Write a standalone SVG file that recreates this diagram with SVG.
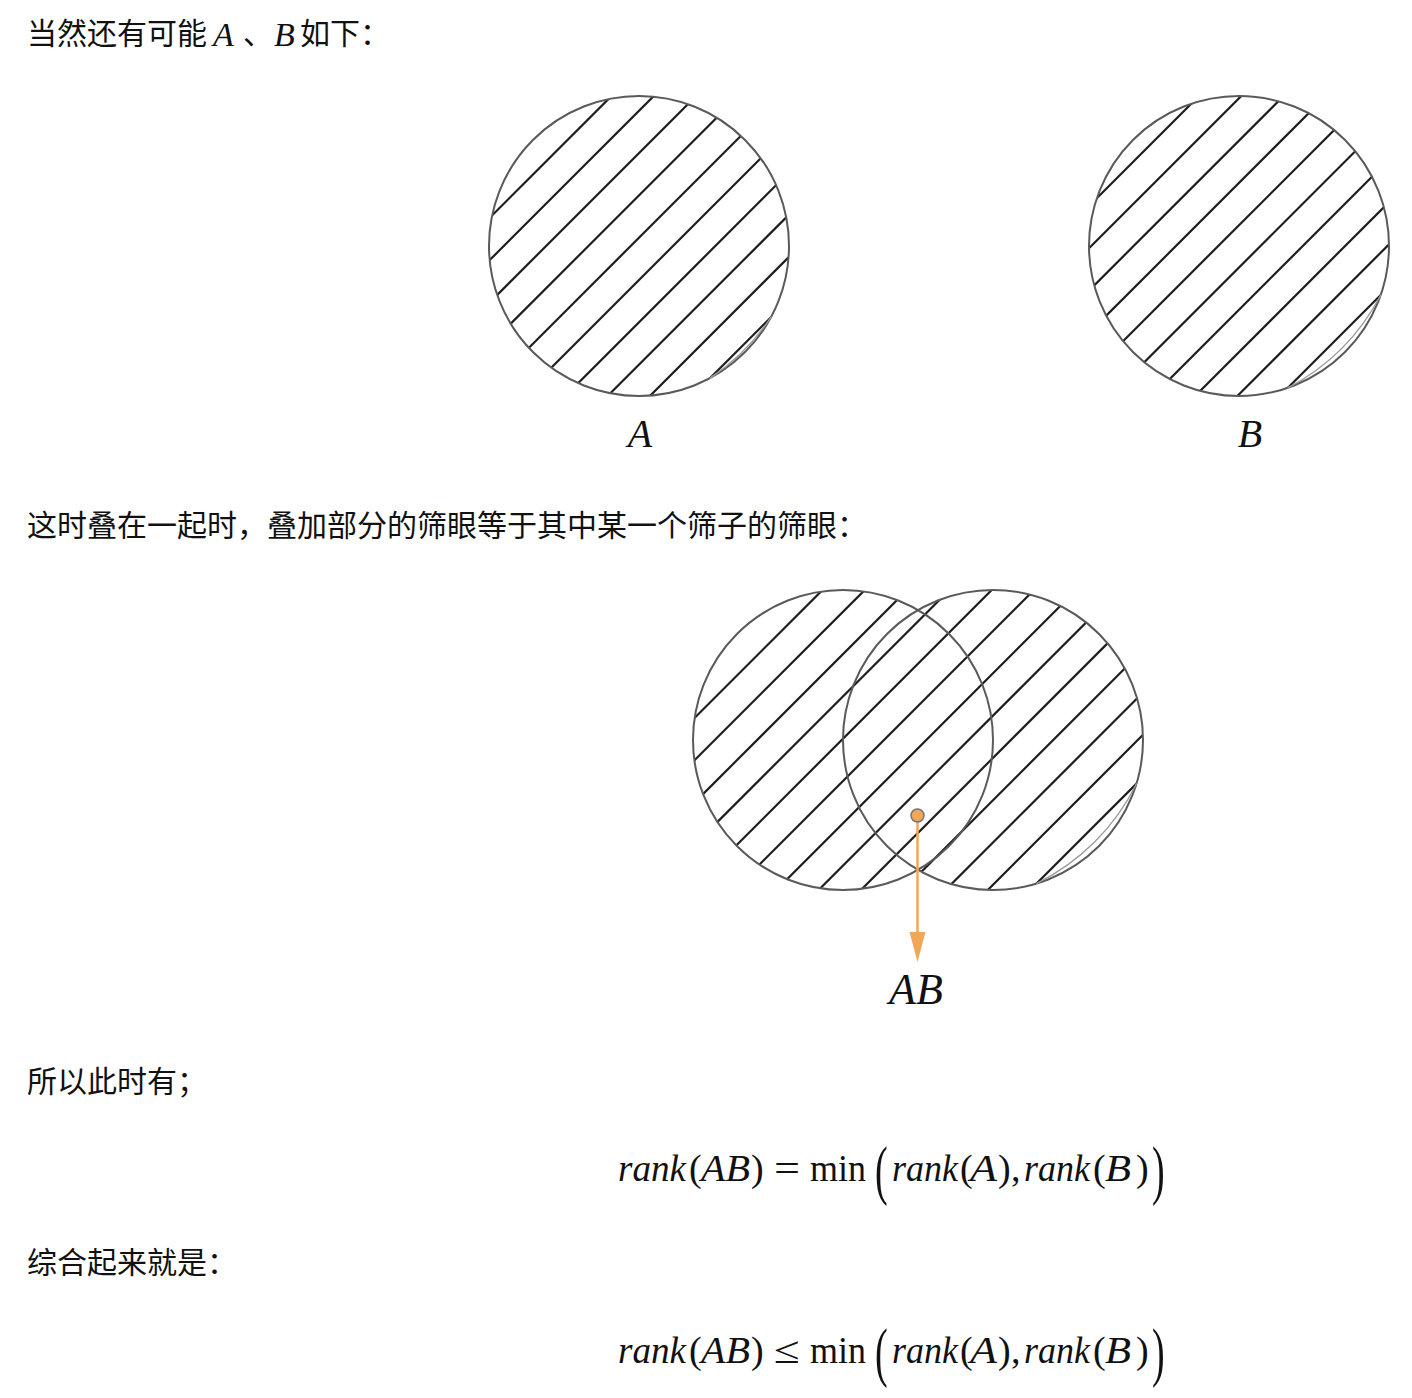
<svg xmlns="http://www.w3.org/2000/svg" width="1412" height="1398" viewBox="0 0 1412 1398">
<style>
.cn{font-family:"Noto Sans CJK SC","Noto Sans",sans-serif;font-size:30px;fill:#111}
.mi{font-family:"Liberation Serif",serif;font-style:italic;fill:#111}
.mr{font-family:"Liberation Serif",serif;fill:#111}
.ring{fill:none;stroke:#5a5a5a;stroke-width:2}
.hatch{fill:none;stroke:#1e1e1e;stroke-width:2.2}
.ghost{fill:none;stroke:#999;stroke-width:1.3}
</style>
<defs>
<clipPath id="clipA"><circle cx="639" cy="246" r="150"/></clipPath>
<clipPath id="clipB"><circle cx="1239" cy="246" r="150"/></clipPath>
<clipPath id="clipU"><circle cx="843" cy="740" r="150"/><circle cx="993" cy="740" r="150"/></clipPath>
</defs>
<rect width="1412" height="1398" fill="#fff"/>

<g id="line1">
<text class="cn" x="27" y="44">当然还有可能</text>
<text class="mi" x="213" y="46" font-size="34">A</text>
<text class="cn" x="243" y="44">、</text>
<text class="mi" x="274" y="46" font-size="34">B</text>
<text class="cn" x="300" y="44">如下：</text>
</g>

<g id="circleA">
<g clip-path="url(#clipA)">
<path class="hatch" d="M307.5,400L617.5,90M349.8,400L659.8,90M392.1,400L702.1,90M434.4,400L744.4,90M476.7,400L786.7,90M519,400L829,90M561.3,400L871.3,90M603.6,400L913.6,90M645.9,400L955.9,90M688.2,400L998.2,90"/>
</g>
<circle class="ring" cx="639" cy="246" r="150"/>
<path class="ghost" d="M709.6,378.4A220,220 0 0 0 771.4,316.6"/>
<text class="mi" x="640" y="447" font-size="40" text-anchor="middle">A</text>
</g>

<g id="circleB">
<g clip-path="url(#clipB)">
<path class="hatch" d="M895,400L1205,90M937.3,400L1247.3,90M979.6,400L1289.6,90M1021.9,400L1331.9,90M1064.2,400L1374.2,90M1106.5,400L1416.5,90M1148.8,400L1458.8,90M1191.1,400L1501.1,90M1233.4,400L1543.4,90M1275.7,400L1585.7,90"/>
</g>
<circle class="ring" cx="1239" cy="246" r="150"/>
<path class="ghost" d="M1287.8,387.9A220,220 0 0 0 1380.9,294.8"/>
<text class="mi" x="1250" y="447" font-size="40" text-anchor="middle">B</text>
</g>

<text class="cn" x="27" y="536">这时叠在一起时，叠加部分的筛眼等于其中某一个筛子的筛眼：</text>

<g id="overlapAB">
<g clip-path="url(#clipU)">
<path class="hatch" d="M517.5,895L827.5,585M559.8,895L869.8,585M602.1,895L912.1,585M644.4,895L954.4,585M686.7,895L996.7,585M729,895L1039,585M771.3,895L1081.3,585M813.6,895L1123.6,585M855.9,895L1165.9,585M898.2,895L1208.2,585M940.5,895L1250.5,585M982.8,895L1292.8,585M1025.1,895L1335.1,585"/>
</g>
<circle class="ring" cx="843" cy="740" r="150"/>
<circle class="ring" cx="993" cy="740" r="150"/>
<path class="ghost" d="M1036.5,883.6A220,220 0 0 0 1136.6,783.5"/>
</g>

<g id="connectors">
<line x1="917.5" y1="822" x2="917.5" y2="934" stroke="#F0A858" stroke-width="2.5"/>
<polygon points="909.5,932 925.5,932 917.5,962" fill="#F0A858"/>
<circle cx="917.5" cy="815.5" r="6.5" fill="#F0A858" stroke="#777" stroke-width="1.5"/>
</g>
<text id="labelAB" class="mi" x="916" y="1004" font-size="44" text-anchor="middle">AB</text>

<text class="cn" x="27" y="1092">所以此时有；</text>

<g id="formula1">
<text class="mi" x="618" y="1181" font-size="38" textLength="68" lengthAdjust="spacingAndGlyphs">rank</text>
<text class="mr" x="689" y="1181" font-size="38">(</text>
<text class="mi" x="701" y="1181" font-size="38" textLength="49" lengthAdjust="spacingAndGlyphs">AB</text>
<text class="mr" x="751" y="1181" font-size="38">)</text>
<text class="mr" x="774" y="1181" font-size="38" textLength="26" lengthAdjust="spacingAndGlyphs">=</text>
<text class="mr" x="810" y="1181" font-size="38" textLength="56" lengthAdjust="spacingAndGlyphs">min</text>
<text class="mr" font-size="38" transform="translate(875,1192) scale(1,1.7)">(</text>
<text class="mi" x="892" y="1181" font-size="38" textLength="66" lengthAdjust="spacingAndGlyphs">rank</text>
<text class="mr" x="960" y="1181" font-size="38">(</text>
<text class="mi" x="970" y="1181" font-size="38" textLength="27" lengthAdjust="spacingAndGlyphs">A</text>
<text class="mr" x="998" y="1181" font-size="38">)</text>
<text class="mr" x="1011" y="1181" font-size="38">,</text>
<text class="mi" x="1024" y="1181" font-size="38" textLength="66" lengthAdjust="spacingAndGlyphs">rank</text>
<text class="mr" x="1093" y="1181" font-size="38">(</text>
<text class="mi" x="1105" y="1181" font-size="38" textLength="26" lengthAdjust="spacingAndGlyphs">B</text>
<text class="mr" x="1136" y="1181" font-size="38">)</text>
<text class="mr" font-size="38" transform="translate(1152,1192) scale(1,1.7)">)</text>
</g>

<text class="cn" x="27" y="1273">综合起来就是：</text>

<g id="formula2">
<text class="mi" x="618" y="1363" font-size="38" textLength="68" lengthAdjust="spacingAndGlyphs">rank</text>
<text class="mr" x="689" y="1363" font-size="38">(</text>
<text class="mi" x="701" y="1363" font-size="38" textLength="49" lengthAdjust="spacingAndGlyphs">AB</text>
<text class="mr" x="751" y="1363" font-size="38">)</text>
<text class="mr" x="774" y="1363" font-size="38" textLength="26" lengthAdjust="spacingAndGlyphs">≤</text>
<text class="mr" x="810" y="1363" font-size="38" textLength="56" lengthAdjust="spacingAndGlyphs">min</text>
<text class="mr" font-size="38" transform="translate(875,1374) scale(1,1.7)">(</text>
<text class="mi" x="892" y="1363" font-size="38" textLength="66" lengthAdjust="spacingAndGlyphs">rank</text>
<text class="mr" x="960" y="1363" font-size="38">(</text>
<text class="mi" x="970" y="1363" font-size="38" textLength="27" lengthAdjust="spacingAndGlyphs">A</text>
<text class="mr" x="998" y="1363" font-size="38">)</text>
<text class="mr" x="1011" y="1363" font-size="38">,</text>
<text class="mi" x="1024" y="1363" font-size="38" textLength="66" lengthAdjust="spacingAndGlyphs">rank</text>
<text class="mr" x="1093" y="1363" font-size="38">(</text>
<text class="mi" x="1105" y="1363" font-size="38" textLength="26" lengthAdjust="spacingAndGlyphs">B</text>
<text class="mr" x="1136" y="1363" font-size="38">)</text>
<text class="mr" font-size="38" transform="translate(1152,1374) scale(1,1.7)">)</text>
</g>
</svg>
